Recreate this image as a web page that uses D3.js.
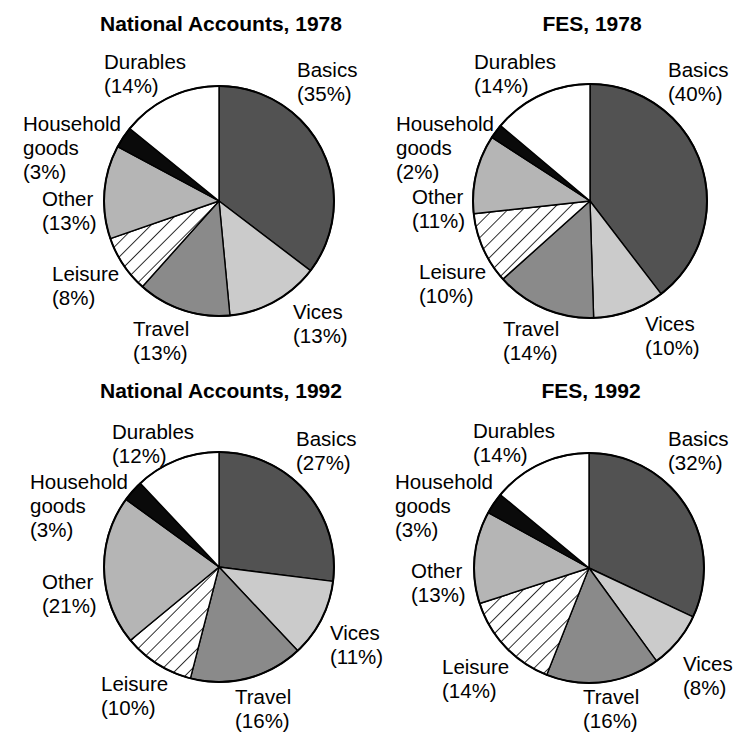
<!DOCTYPE html>
<html>
<head>
<meta charset="utf-8">
<script src="https://cdn.jsdelivr.net/npm/d3@7"></script>
<style>
  html, body { margin: 0; padding: 0; background: #fff; }
  svg { display: block; }
  text { font-family: "Liberation Sans", Arial, Helvetica, sans-serif; fill: #000; }
</style>
</head>
<body>
<svg id="chart" width="737" height="733"></svg>
<script>
// ---- Data ----
const categories = ["Basics", "Vices", "Travel", "Leisure", "Other", "Household goods", "Durables"];
const labelLines = [["Basics"], ["Vices"], ["Travel"], ["Leisure"], ["Other"], ["Household", "goods"], ["Durables"]];
const titles = ["National Accounts, 1978", "FES, 1978", "National Accounts, 1992", "FES, 1992"];
const na1978 = [35, 13, 13, 8, 13, 3, 14];
const fes1978 = [40, 10, 14, 10, 11, 2, 14];
const na1992 = [27, 11, 16, 10, 21, 3, 12];
const fes1992 = [32, 8, 16, 14, 13, 3, 14];
const seriesList = [na1978, fes1978, na1992, fes1992];

// ---- Layout (positions / styles) ----
const panels = [
  { cx: 219, cy: 201, r: 115, titleY: 31 },
  { cx: 590, cy: 201, r: 117, titleY: 31 },
  { cx: 219, cy: 567, r: 115, titleY: 398 },
  { cx: 589, cy: 568, r: 115, titleY: 398 }
];
// label anchor (left x, first baseline y) per panel, in category order
const labelPos = [
  [[297, 77], [293, 319], [133, 336], [52, 281], [42, 206], [23, 131], [104, 69]],
  [[668, 77], [645, 331], [503, 336], [419, 279], [412, 204], [396, 131], [474, 69]],
  [[296, 446], [330, 640], [235, 704], [101, 691], [42, 589], [30, 489], [112, 439]],
  [[668, 446], [683, 671], [583, 704], [442, 674], [411, 578], [395, 489], [473, 438]]
];
const lineH = 24;
const fills = ["#525252", "#cbcbcb", "#8a8a8a", "url(#hatch)", "#b5b5b5", "#0a0a0a", "#ffffff"];

const svg = d3.select("#chart");
const defs = svg.append("defs");
const pat = defs.append("pattern")
  .attr("id", "hatch")
  .attr("patternUnits", "userSpaceOnUse")
  .attr("width", 10.5).attr("height", 10.5)
  .attr("patternTransform", "rotate(45)");
pat.append("rect").attr("width", 10.5).attr("height", 10.5).attr("fill", "#fff");
pat.append("line").attr("x1", 0).attr("y1", 0).attr("x2", 0).attr("y2", 10.5)
  .attr("stroke", "#000").attr("stroke-width", 1.6);

const color = d3.scaleOrdinal().domain(categories).range(fills);
const pie = d3.pie().sort(null).value(d => d.value);

seriesList.forEach((vals, i) => {
  const p = panels[i];
  const data = categories.map((c, k) => ({ cat: c, value: vals[k], idx: k }));
  const arc = d3.arc().innerRadius(0).outerRadius(p.r);
  const g = svg.append("g").attr("transform", `translate(${p.cx},${p.cy})`);
  g.selectAll("path.slice")
    .data(pie(data))
    .join("path")
    .attr("class", "slice")
    .attr("d", arc)
    .attr("fill", d => color(d.data.cat))
    .attr("stroke", "#000")
    .attr("stroke-width", 1.4)
    .attr("stroke-linejoin", "round");
  g.append("circle").attr("r", p.r).attr("fill", "none")
    .attr("stroke", "#000").attr("stroke-width", 2);

  svg.append("text")
    .attr("x", p.cx + 2).attr("y", p.titleY)
    .attr("text-anchor", "middle")
    .attr("font-weight", "bold")
    .attr("font-size", "21px")
    .text(titles[i]);

  data.forEach((d, k) => {
    const [lx, ly] = labelPos[i][k];
    const lines = labelLines[k].concat([`(${d.value}%)`]);
    const t = svg.append("text").attr("font-size", "20.5px").attr("x", lx).attr("y", ly);
    lines.forEach((ln, j) => {
      t.append("tspan").attr("x", lx).attr("y", ly + j * lineH).text(ln);
    });
  });
});
</script>
</body>
</html>
